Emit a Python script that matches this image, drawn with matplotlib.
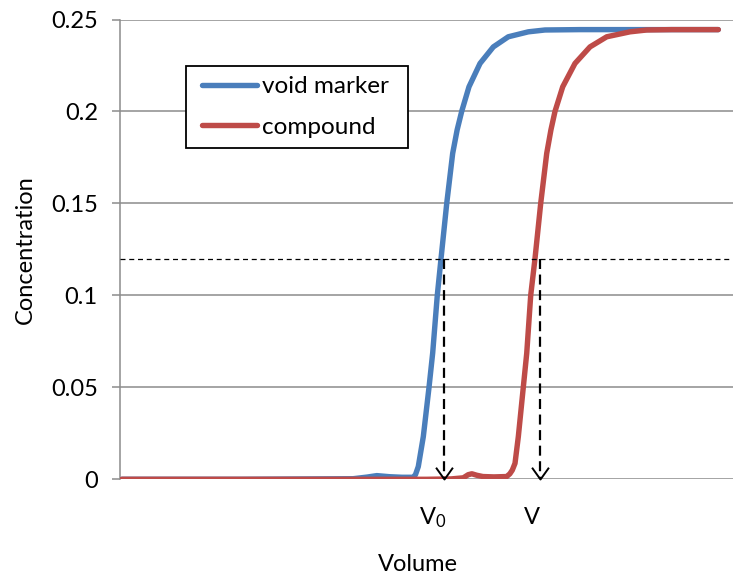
import matplotlib
matplotlib.use("Agg")
import matplotlib.pyplot as plt
from matplotlib.path import Path
from matplotlib.patches import Rectangle
from matplotlib.transforms import blended_transform_factory

plt.rcParams['font.family'] = ['Lato', 'DejaVu Sans']

# Elution profiles (volume in arbitrary units, concentration)
void_volume = [0.3, 20.0, 38.0, 40.3, 41.9, 44.0, 46.0, 47.8, 48.2, 48.66, 49.48, 50.41,
               51.01, 51.76, 52.37, 53.30, 54.27, 55.0, 55.74, 56.93, 58.73, 60.90,
               63.34, 66.61, 69.33, 75.0, 85.0, 97.6]
void_conc = [0.0, 0.0, 0.0003, 0.0012, 0.002, 0.0014, 0.0011, 0.0011, 0.0025, 0.0069,
             0.0232, 0.05, 0.0687, 0.10, 0.12, 0.15, 0.1772, 0.190, 0.20, 0.2134,
             0.2261, 0.2351, 0.2406, 0.2433, 0.2443, 0.2445, 0.2445, 0.2445]

comp_volume = [0.3, 20.0, 40.0, 50.0, 54.0, 56.0, 56.8, 57.4, 58.2, 59.2, 61.0, 63.08,
               63.6, 64.0, 64.44, 64.98, 65.79, 66.35, 67.00, 67.70, 68.63, 69.61, 70.3,
               70.96, 72.22, 74.22, 76.67, 79.40, 83.20, 85.92, 90.0, 97.6]
comp_conc = [0.0, 0.0, 0.0, 0.0, 0.0002, 0.0008, 0.0025, 0.003, 0.0022, 0.0015,
             0.0013, 0.0015, 0.0030, 0.0050, 0.0087, 0.0232, 0.05, 0.0685, 0.10, 0.12,
             0.15, 0.1772, 0.190, 0.20, 0.2134, 0.2261, 0.2351, 0.2406, 0.2433,
             0.2443, 0.2445, 0.2445]

series_labels = ["void marker", "compound"]
series_colors = ["#4A7EBB", "#BE4B48"]

half_conc = 0.12
v0_pos = 52.8
v_pos = 68.5
y_ticks = [0, 0.05, 0.1, 0.15, 0.2, 0.25]
y_ticklabels = ["0", "0.05", "0.1", "0.15", "0.2", "0.25"]

FS = 17
W, H = 734, 575
fig = plt.figure(figsize=(W / 100, H / 100), dpi=100)
ax = fig.add_axes([120 / W, 1 - 479.3 / H, 613 / W, (479.3 - 19.5) / H])

ax.plot(void_volume, void_conc, color=series_colors[0], lw=3.9,
        solid_capstyle='round', solid_joinstyle='round', label=series_labels[0], zorder=3)
ax.plot(comp_volume, comp_conc, color=series_colors[1], lw=3.9,
        solid_capstyle='round', solid_joinstyle='round', label=series_labels[1], zorder=4)

# half-height reference line and drop lines with open arrowheads
ax.axhline(half_conc, color='black', lw=0.9, ls=(0, (4, 3)), zorder=5)
vhead = Path([(-1, 1.4), (0, 0), (1, 1.4)], [Path.MOVETO, Path.LINETO, Path.LINETO])
for xv in (v0_pos, v_pos):
    ax.plot([xv, xv], [half_conc, 0], color='black', lw=1.6, ls=(0, (4.5, 2.5)), zorder=5)
    ax.plot([xv], [0], marker=vhead, ms=17, mfc='none', mec='black', mew=1.4,
            zorder=6, clip_on=False)

ax.set_xlim(0, 100)
ax.set_ylim(0, 0.25)
ax.set_yticks(y_ticks)
ax.set_yticklabels(y_ticklabels)
ax.set_xticks([])
ax.yaxis.grid(True, color='#8c8c8c', lw=1.1)
ax.set_axisbelow(True)
for s in ('top', 'right', 'bottom'):
    ax.spines[s].set_visible(False)
ax.spines['left'].set_color('#8c8c8c')
ax.spines['left'].set_linewidth(1.1)
ax.tick_params(axis='y', direction='out', length=6, width=1.1, color='#8c8c8c',
               labelsize=FS, pad=10, labelcolor='black')

ax.set_ylabel("Concentration", fontsize=FS)
ax.yaxis.set_label_coords(-0.155, 0.5)
ax.yaxis.label.set_va('center')
ax.set_xlabel("Volume", fontsize=FS)
ax.xaxis.set_label_coords(0.486, -0.186)
ax.xaxis.label.set_va('center')

tr = blended_transform_factory(ax.transData, fig.transFigure)
ax.text(51.0, 1 - 518 / H, r"$\mathregular{V_0}$", transform=tr, ha='center',
        va='center', fontsize=FS)
ax.text(67.2, 1 - 518 / H, "V", transform=tr, ha='center', va='center', fontsize=FS)

# legend: entries centred in a square black box
box = Rectangle((186 / W, 1 - 148 / H), 222 / W, 82 / H, transform=fig.transFigure,
                facecolor='white', edgecolor='black', lw=1.3, zorder=6)
ax.add_artist(box)
leg = ax.legend(loc='center', bbox_to_anchor=(295.5 / W, 1 - 107 / H),
                bbox_transform=fig.transFigure, fontsize=17.5, frameon=False,
                borderpad=0, borderaxespad=0, handlelength=2.26, handletextpad=0.2,
                labelspacing=0.82)
leg.set_zorder(7)
for ln in leg.get_lines():
    ln.set_linewidth(3.9)

fig.savefig("out.png", dpi=100)
